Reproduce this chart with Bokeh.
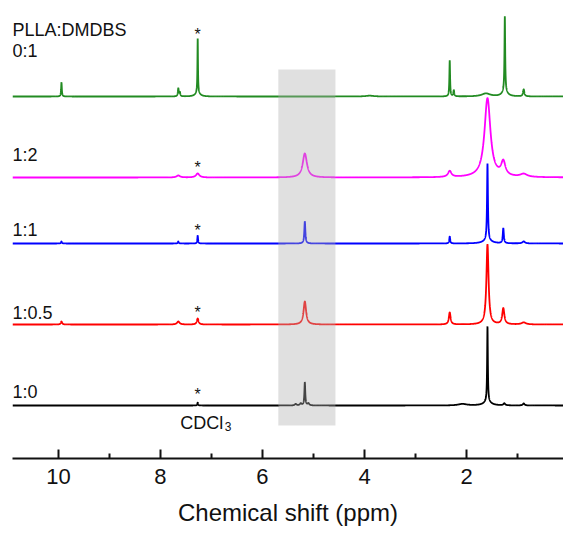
import numpy as np
from bokeh.plotting import figure
from bokeh.models import Range1d, FixedTicker, ColumnDataSource
from bokeh.core.properties import value
from bokeh.embed import file_html
from bokeh.resources import INLINE

# ---------------- data ----------------
x_start, x_end = 10.9, 0.1
major_ticks = [10, 8, 6, 4, 2]
minor_ticks = [9, 7, 5, 3, 1]

series_names = ["1:0", "1:0.5", "1:1", "1:2", "0:1"]
series_colors = ["#000000", "#ff0000", "#0000ff", "#ff00ff", "#228b22"]
series_offsets = [55, 136, 217, 283, 364]

# peak tables: position (ppm), height, half width (ppm)
black_ppm = [7.27, 5.35, 5.25, 5.17, 5.10, 2.08, 1.59, 1.59, 1.26, 0.88]
black_int = [3, 1.5, 2, 23, 2, 1.5, 75, 4, 2, 2]
black_w = [0.008, 0.02, 0.02, 0.01, 0.02, 0.1, 0.008, 0.08, 0.02, 0.02]

red_ppm = [9.94, 7.65, 7.27, 5.17, 2.33, 1.59, 1.28, 0.88]
red_int = [3, 3, 6, 23, 12, 80, 16, 2]
red_w = [0.015, 0.03, 0.02, 0.03, 0.02, 0.025, 0.025, 0.05]

blue_ppm = [9.94, 7.65, 7.27, 5.17, 2.33, 1.59, 1.59, 1.28, 0.88]
blue_int = [2, 2, 8, 22, 7, 77, 3, 15, 2]
blue_w = [0.01, 0.01, 0.008, 0.012, 0.01, 0.01, 0.1, 0.012, 0.03]

magenta_ppm = [7.65, 7.27, 5.17, 2.33, 1.59, 1.28, 0.88]
magenta_int = [2, 4, 24, 6, 79, 14, 3]
magenta_w = [0.04, 0.04, 0.05, 0.04, 0.07, 0.05, 0.08]

green_ppm = [9.94, 7.65, 7.62, 7.27, 7.27, 3.9, 2.33, 2.25, 1.62, 1.25, 1.25, 0.88]
green_int = [14, 8, 4, 54, 4, 0.8, 36, 6, 3, 75, 5, 7]
green_w = [0.008, 0.01, 0.01, 0.006, 0.05, 0.1, 0.008, 0.01, 0.1, 0.008, 0.06, 0.015]

peak_tables = [
    (black_ppm, black_int, black_w),
    (red_ppm, red_int, red_w),
    (blue_ppm, blue_int, blue_w),
    (magenta_ppm, magenta_int, magenta_w),
    (green_ppm, green_int, green_w),
]

solvent_ppm = 7.27
band_ppm = [5.69, 4.57]
band_y = [35, 391]

# ---------------- figure ----------------
p = figure(width=563, height=533, output_backend="svg", toolbar_location=None,
           x_range=Range1d(x_start, x_end), y_range=Range1d(2, 460),
           y_axis_location=None,
           min_border_left=12, min_border_right=0, min_border_top=0,
           min_border_bottom=75)
p.xgrid.visible = False
p.ygrid.visible = False
p.outline_line_color = None
p.background_fill_color = "white"
p.border_fill_color = "white"

ax = p.xaxis[0]
ax.ticker = FixedTicker(ticks=major_ticks, minor_ticks=minor_ticks)
ax.major_tick_in = 9
ax.major_tick_out = 0
ax.minor_tick_in = 5
ax.minor_tick_out = 0
ax.axis_line_width = 2
ax.major_tick_line_width = 2
ax.minor_tick_line_width = 2
ax.axis_line_color = "#111111"
ax.major_tick_line_color = "#111111"
ax.minor_tick_line_color = "#111111"
ax.major_label_text_font = "Liberation Sans"
ax.major_label_text_font_size = "22px"
ax.major_label_text_color = "#111111"
ax.major_label_standoff = 10
ax.axis_label = "Chemical shift (ppm)"
ax.axis_label_text_font = "Liberation Sans"
ax.axis_label_text_font_size = "24px"
ax.axis_label_text_font_style = "normal"
ax.axis_label_text_color = "#111111"
ax.axis_label_standoff = 12

grid = np.linspace(x_end, x_start, 6000)
for (ppm, inten, wid), off, col in zip(peak_tables, series_offsets, series_colors):
    xs = np.unique(np.concatenate([grid, np.array(ppm)]))
    ys = np.zeros_like(xs)
    for x0, h, w in zip(ppm, inten, wid):
        ys += h / (1.0 + ((xs - x0) / w) ** 2)
    p.line(xs, ys + off, line_color=col, line_width=1.8)

# grey highlight band on top
p.quad(left=[band_ppm[0]], right=[band_ppm[1]], bottom=[band_y[0]], top=[band_y[1]],
       fill_color="#aeaeae", fill_alpha=0.39, line_color=None)

font = value("Liberation Sans")

# series labels
label_y = [69, 148, 231, 306, 410]
src = ColumnDataSource(dict(x=[x_start] * 5, y=label_y, t=series_names))
p.text(x="x", y="y", text="t", source=src, text_font=font, text_font_size="18px",
       text_color="#111111", text_align="left", text_baseline="alphabetic")
p.text(x=[x_start], y=[431], text=["PLLA:DMDBS"], text_font=font, text_font_size="18px",
       text_color="#111111", text_align="left", text_baseline="alphabetic")

# solvent asterisks
star_y = [66, 148, 230, 293, 426]
p.text(x=[solvent_ppm] * 5, y=star_y, text=["*"] * 5, text_font=font,
       text_font_size="16px", text_color="#111111", text_align="center",
       text_baseline="alphabetic")

# CDCl3 label
p.text(x=[7.61], y=[38], text=["CDCl"], text_font=font, text_font_size="18px",
       text_color="#111111", text_align="left", text_baseline="alphabetic")
p.text(x=[6.74], y=[34], text=["3"], text_font=font, text_font_size="12px",
       text_color="#111111", text_align="left", text_baseline="alphabetic")

open("out.html", "w").write(file_html(p, INLINE))
